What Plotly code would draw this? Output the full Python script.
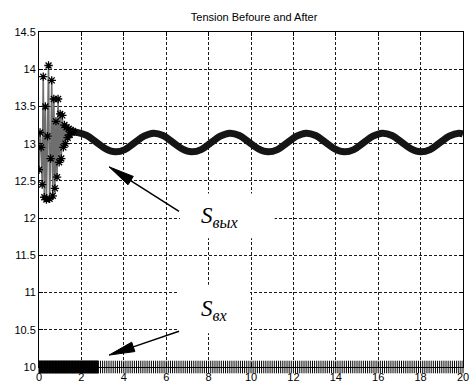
import math
import plotly.graph_objects as go

# ---- data ----
# transient part of the output tension S_out (t in s, value)
t_trans = [0.00, 0.05, 0.10, 0.15, 0.20, 0.25, 0.30, 0.35, 0.40, 0.45, 0.50, 0.55,
           0.60, 0.65, 0.70, 0.75, 0.80, 0.85, 0.90, 0.95, 1.00, 1.05, 1.10, 1.15,
           1.20, 1.25, 1.30, 1.35, 1.40, 1.45, 1.50, 1.55, 1.60]
s_trans = [12.65, 13.15, 12.95, 12.45, 13.90, 12.28, 13.50, 12.25, 13.10, 14.05, 12.26, 12.80,
           13.85, 12.30, 13.60, 12.40, 13.30, 12.55, 13.60, 12.75, 13.40, 12.80, 13.38, 12.95,
           13.25, 13.00, 13.22, 13.08, 13.20, 13.12, 13.18, 13.15, 13.17]

# steady part of S_out
t_steady = [1.60, 1.80, 2.25, 2.70, 3.15, 3.60, 4.05, 4.50, 4.95, 5.40, 5.85, 6.30, 6.75,
            7.20, 7.65, 8.10, 8.55, 9.00, 9.45, 9.90, 10.35, 10.80, 11.25, 11.70, 12.15,
            12.60, 13.05, 13.50, 13.95, 14.40, 14.85, 15.30, 15.75, 16.20, 16.65, 17.10,
            17.55, 18.00, 18.45, 18.90, 19.35, 19.80, 20.00]
s_steady = [13.16, 13.15, 13.11, 13.02, 12.93, 12.89, 12.92, 13.01, 13.10, 13.14, 13.11,
            13.02, 12.93, 12.89, 12.92, 13.01, 13.10, 13.14, 13.11, 13.02, 12.93, 12.89,
            12.92, 13.01, 13.10, 13.14, 13.11, 13.02, 12.93, 12.89, 12.92, 13.01, 13.10,
            13.14, 13.11, 13.02, 12.93, 12.89, 12.92, 13.01, 13.10, 13.14, 13.13]

# input tension S_in (constant), sample times
t_in = [round(0.02 * i, 2) for i in range(141)] + [round(2.8 + 0.1 * i, 2) for i in range(1, 173)]
s_in = [10.0] * len(t_in)

x_ticks = [0, 2, 4, 6, 8, 10, 12, 14, 16, 18, 20]
y_ticks = [10, 10.5, 11, 11.5, 12, 12.5, 13, 13.5, 14, 14.5]
y_tick_labels = ["10", "10.5", "11", "11.5", "12", "12.5", "13", "13.5", "14", "14.5"]

title_text = "Tension Befoure and After"
label_out = "<i>S</i><sub><i>вых</i></sub>"
label_in = "<i>S</i><sub><i>вх</i></sub>"

# ---- layout geometry (pixels) ----
W, H = 474, 388
ML, MR, MT, MB = 39, 5, 32, 18
X0, X1 = 0, 20
Y0, Y1 = 10, 14.5
PW, PH = W - ML - MR, H - MT - MB


def to_data(px, py):
    return (X0 + (px - ML) / PW * (X1 - X0), Y1 - (py - MT) / PH * (Y1 - Y0))


def arrow_shapes(tip, tail, head_len=26, head_half=5):
    dx, dy = tail[0] - tip[0], tail[1] - tip[1]
    L = math.hypot(dx, dy)
    ux, uy = dx / L, dy / L
    bx, by = tip[0] + ux * head_len, tip[1] + uy * head_len
    c1 = (bx - uy * head_half, by + ux * head_half)
    c2 = (bx + uy * head_half, by - ux * head_half)
    pts = [to_data(*p) for p in (tip, c1, c2)]
    path = "M {} {} L {} {} L {} {} Z".format(pts[0][0], pts[0][1], pts[1][0], pts[1][1], pts[2][0], pts[2][1])
    a = to_data(*tail)
    b = to_data(bx, by)
    return [
        dict(type="line", xref="x", yref="y", x0=a[0], y0=a[1], x1=b[0], y1=b[1],
             line=dict(color="black", width=1.5), layer="above"),
        dict(type="path", xref="x", yref="y", path=path, fillcolor="black",
             line=dict(color="black", width=1), layer="above"),
    ]


fig = go.Figure()

fig.add_trace(go.Scatter(
    x=t_steady, y=s_steady, mode="lines",
    line=dict(color="#151515", width=7, shape="spline", smoothing=1.0),
    hoverinfo="skip", showlegend=False))

fig.add_trace(go.Scatter(
    x=t_trans, y=s_trans, mode="lines+markers",
    line=dict(color="#6e6e6e", width=1.6),
    marker=dict(symbol="asterisk-open", size=7, color="black", line=dict(color="black", width=1.3)),
    showlegend=False))

fig.add_trace(go.Scatter(
    x=t_in, y=s_in, mode="markers",
    marker=dict(symbol="line-ns-open", size=9, color="black", line=dict(color="black", width=1)),
    cliponaxis=False, showlegend=False))

# white boxes behind labels
bx1a, by1a = to_data(182, 195)
bx1b, by1b = to_data(278, 240)
bx2a, by2a = to_data(180, 287)
bx2b, by2b = to_data(253, 336)
fig.add_shape(type="rect", xref="x", yref="y", x0=bx1a, x1=bx1b, y0=by1b, y1=by1a,
              fillcolor="white", line=dict(width=0), layer="between")
fig.add_shape(type="rect", xref="x", yref="y", x0=bx2a, x1=bx2b, y0=by2b, y1=by2a,
              fillcolor="white", line=dict(width=0), layer="between")

for s in arrow_shapes((110, 168), (181, 213)) + arrow_shapes((110, 358), (181, 334)):
    fig.add_shape(**s)

serif = "Liberation Serif, Times New Roman, serif"
lx, ly = to_data(222, 219)
fig.add_annotation(x=lx, y=ly, xref="x", yref="y", text=label_out, showarrow=False,
                   font=dict(family=serif, size=23, color="black"))
lx, ly = to_data(216, 312)
fig.add_annotation(x=lx, y=ly, xref="x", yref="y", text=label_in, showarrow=False,
                   font=dict(family=serif, size=23, color="black"))

axis_font = dict(family="Liberation Sans, Arial, sans-serif", size=11, color="black")
fig.update_xaxes(range=[X0, X1], tickvals=x_ticks, ticks="inside", ticklen=4, tickcolor="black",
                 showline=True, linecolor="black", linewidth=1, mirror="ticks",
                 showgrid=True, gridcolor="#1a1a1a", griddash="3px,2px", gridwidth=1,
                 zeroline=False, tickfont=axis_font, ticklabeloverflow="allow")
fig.update_yaxes(range=[Y0, Y1], tickvals=y_ticks, ticktext=y_tick_labels, ticks="inside",
                 ticklen=4, tickcolor="black",
                 showline=True, linecolor="black", linewidth=1, mirror="ticks",
                 showgrid=True, gridcolor="#1a1a1a", griddash="3px,2px", gridwidth=1,
                 zeroline=False, tickfont=axis_font, ticklabeloverflow="allow")

fig.update_layout(
    width=W, height=H,
    margin=dict(l=ML, r=MR, t=MT, b=MB),
    plot_bgcolor="white", paper_bgcolor="white",
    title=dict(text=title_text, x=0.536, xanchor="center", y=1 - 17 / H, yanchor="middle",
               yref="container", font=dict(family="Liberation Sans, Arial, sans-serif", size=11, color="black")),
)

fig.write_html("out.html")
